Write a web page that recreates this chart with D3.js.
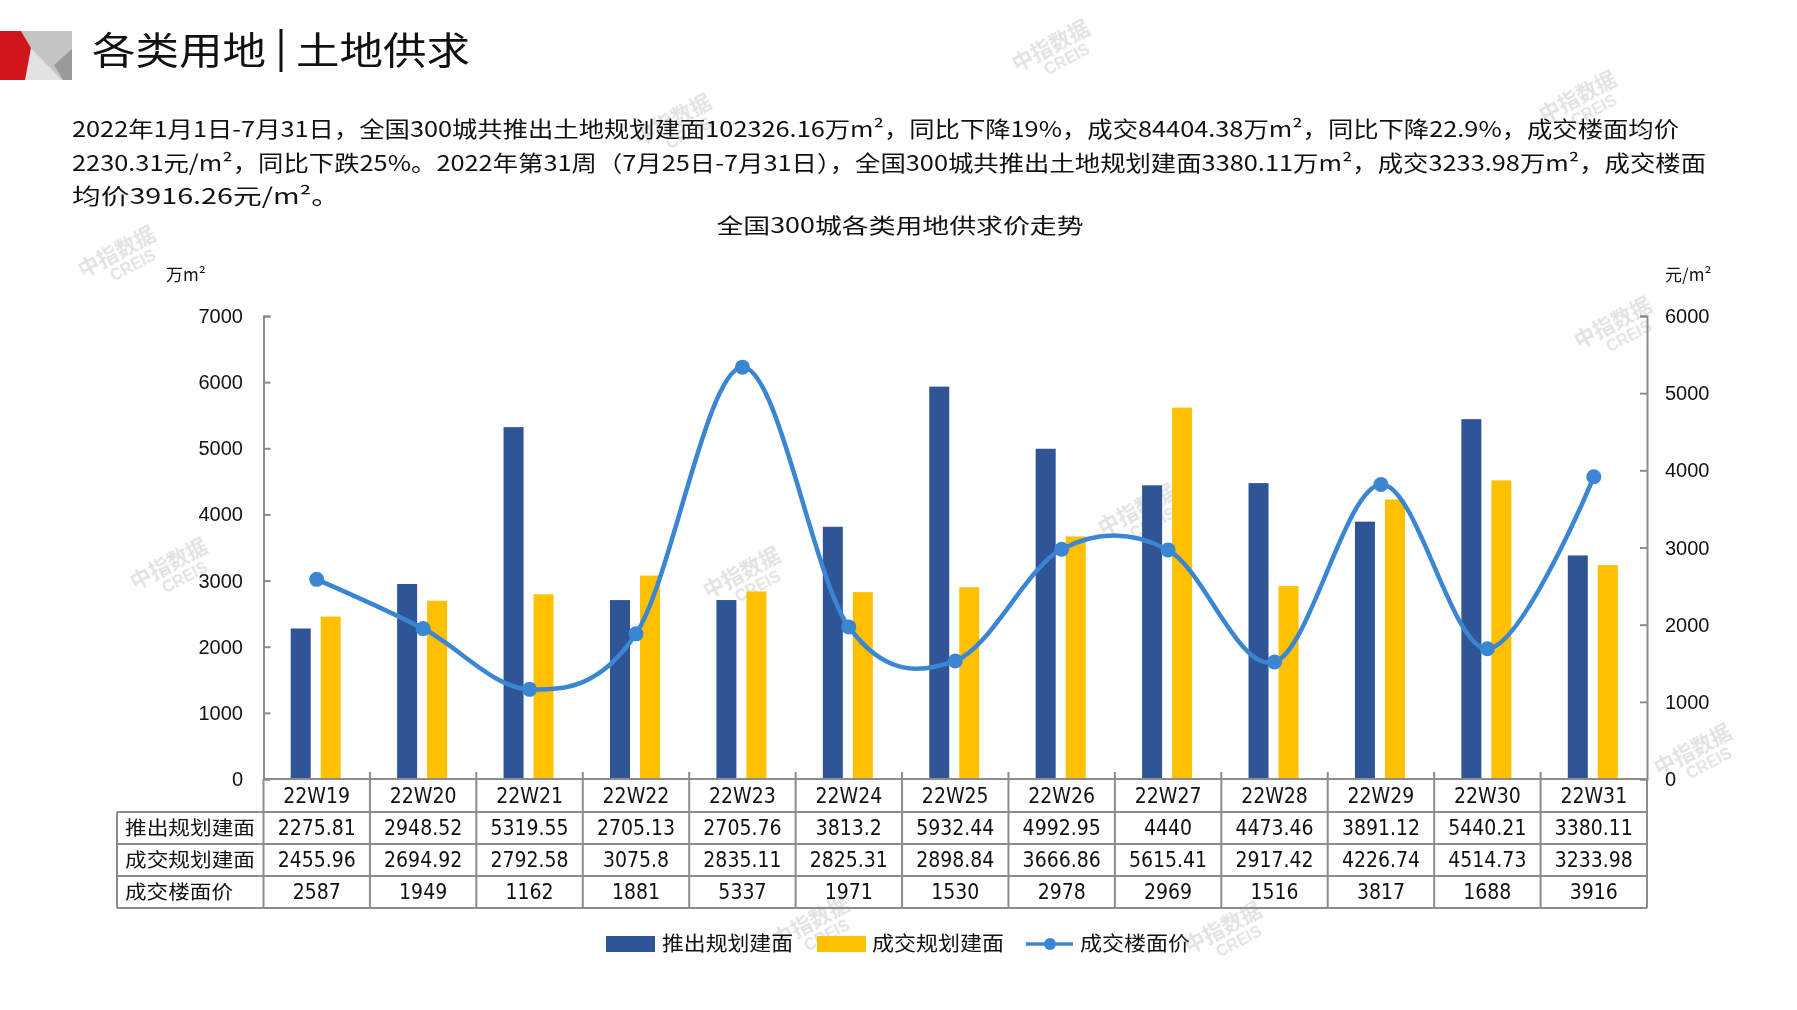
<!DOCTYPE html>
<html><head><meta charset="utf-8">
<script src="https://cdn.jsdelivr.net/npm/d3@7"></script>
<style>body{margin:0;background:#fff;overflow:hidden}</style>
</head><body><svg id="c" width="1797" height="1010"></svg>
<script>
const categories = ["22W19","22W20","22W21","22W22","22W23","22W24","22W25","22W26","22W27","22W28","22W29","22W30","22W31"];
const supply = [2275.81,2948.52,5319.55,2705.13,2705.76,3813.2,5932.44,4992.95,4440,4473.46,3891.12,5440.21,3380.11];
const deal = [2455.96,2694.92,2792.58,3075.8,2835.11,2825.31,2898.84,3666.86,5615.41,2917.42,4226.74,4514.73,3233.98];
const price = [2587,1949,1162,1881,5337,1971,1530,2978,2969,1516,3817,1688,3916];
const leftTicks = [0,1000,2000,3000,4000,5000,6000,7000];
const rightTicks = [0,1000,2000,3000,4000,5000,6000];
const seriesNames = ["推出规划建面","成交规划建面","成交楼面价"];
const titleLeft = "各类用地", titleRight = "土地供求";
const chartTitle = "全国300城各类用地供求价走势";
const leftUnit = "万m²", rightUnit = "元/m²";
const paragraph = [
  "2022年1月1日-7月31日，全国300城共推出土地规划建面102326.16万m²，同比下降19%，成交84404.38万m²，同比下降22.9%，成交楼面均价",
  "2230.31元/m²，同比下跌25%。2022年第31周（7月25日-7月31日），全国300城共推出土地规划建面3380.11万m²，成交3233.98万m²，成交楼面",
  "均价3916.26元/m²。"
];

const CJK = "'Noto Sans CJK SC', sans-serif";
const NUM = "'Liberation Sans', Arial, sans-serif";
const NARROW = "'Liberation Sans Narrow', 'DejaVu Sans Condensed', 'Noto Sans CJK SC', sans-serif";
const BLUE = "#2F5597", YELLOW = "#FFC000", LINE = "#3B86D2", AXIS = "#8c8c8c";

const svg = d3.select("#c");

// watermarks (drawn first, behind)
const wm = [[1054,52],[676,126],[1581,103],[120,258],[1616,329],[172,570],[745,579],[1140,516],[1696,756],[814,928],[1226,934]];
const wmG = svg.append("g").attr("fill","#d6d6d6").attr("opacity",0.7);
wm.forEach(([x,y])=>{
  const g = wmG.append("g").attr("transform",`translate(${x},${y}) rotate(-28)`);
  g.append("text").attr("x",0).attr("y",0).attr("text-anchor","middle").attr("font-family",CJK).attr("font-size",21).attr("font-weight","bold").text("中指数据");
  g.append("text").attr("x",8).attr("y",18).attr("text-anchor","middle").attr("font-family",NUM).attr("font-size",16).attr("font-weight","bold").text("CREIS");
});

// logo
const logo = svg.append("g");
logo.append("rect").attr("x",21).attr("y",31).attr("width",51).attr("height",49).attr("fill","#c4c4c4");
logo.append("polygon").attr("points","21,31 31,48 62,80 25,80").attr("fill","#e2e2e2");
logo.append("polygon").attr("points","54,65 72,49 72,80 63,80").attr("fill","#9a9a9a");
logo.append("polygon").attr("points","0,31 21,31 31,48 25,80 0,80").attr("fill","#D0161B");

// title
svg.append("text").attr("x",92).attr("y",64).attr("font-family",CJK).attr("font-size",38)
  .attr("textLength",174).attr("lengthAdjust","spacingAndGlyphs").attr("fill","#111").text(titleLeft);
svg.append("line").attr("x1",281).attr("x2",281).attr("y1",29).attr("y2",72).attr("stroke","#111").attr("stroke-width",3);
svg.append("text").attr("x",296).attr("y",64).attr("font-family",CJK).attr("font-size",38)
  .attr("textLength",174).attr("lengthAdjust","spacingAndGlyphs").attr("fill","#111").text(titleRight);

// paragraph
const pEnds = [1679,1706,340];
const pBase = [137,171,204];
paragraph.forEach((t,i)=>{
  svg.append("text").attr("x",72).attr("y",pBase[i]).attr("font-family",CJK).attr("font-size",22)
    .attr("textLength",pEnds[i]-72).attr("lengthAdjust","spacingAndGlyphs").attr("fill","#111").text(t);
});

// chart title
svg.append("text").attr("x",900).attr("y",233).attr("text-anchor","middle").attr("font-family",CJK).attr("font-size",21)
  .attr("textLength",367).attr("lengthAdjust","spacingAndGlyphs").attr("fill","#111").text(chartTitle);

// scales
const x0 = 263.5, x1 = 1647, yTop = 316, yBot = 779;
const x = d3.scaleBand().domain(categories).range([x0,x1]).paddingInner(0).paddingOuter(0);
const yL = d3.scaleLinear().domain([0,7000]).range([yBot,yTop]);
const yR = d3.scaleLinear().domain([0,6000]).range([yBot,yTop]);
const bw = 20;

// units
svg.append("text").attr("x",166).attr("y",281).attr("font-family",CJK).attr("font-size",17).attr("fill","#111").text(leftUnit);
svg.append("text").attr("x",1665).attr("y",281).attr("font-family",CJK).attr("font-size",17).attr("fill","#111").text(rightUnit);

// bars
svg.append("g").selectAll("rect").data(categories).join("rect")
  .attr("x",(d)=>x(d)+x.bandwidth()/2-26).attr("width",bw)
  .attr("y",(d,i)=>yL(supply[i])).attr("height",(d,i)=>yBot-yL(supply[i])).attr("fill",BLUE);
svg.append("g").selectAll("rect").data(categories).join("rect")
  .attr("x",(d)=>x(d)+x.bandwidth()/2+4).attr("width",bw)
  .attr("y",(d,i)=>yL(deal[i])).attr("height",(d,i)=>yBot-yL(deal[i])).attr("fill",YELLOW);

// axes
const axL = svg.append("g").attr("transform",`translate(${x0},0)`)
  .call(d3.axisRight(yL).tickValues(leftTicks).tickSize(7).tickFormat(""));
axL.selectAll("line,path").attr("stroke",AXIS).attr("stroke-width",2);
const axR = svg.append("g").attr("transform",`translate(${x1},0)`)
  .call(d3.axisLeft(yR).tickValues(rightTicks).tickSize(7).tickFormat(""));
axR.selectAll("line,path").attr("stroke",AXIS).attr("stroke-width",2);
svg.append("g").selectAll("text").data(leftTicks).join("text")
  .attr("x",243).attr("y",d=>yL(d)+7).attr("text-anchor","end").attr("font-family",NUM).attr("font-size",20).attr("fill","#111").text(d=>d);
svg.append("g").selectAll("text").data(rightTicks).join("text")
  .attr("x",1665).attr("y",d=>yR(d)+7).attr("font-family",NUM).attr("font-size",20).attr("fill","#111").text(d=>d);

// line
const lineGen = d3.line().x((d,i)=>x(categories[i])+x.bandwidth()/2).y(d=>yR(d)).curve(d3.curveCardinal.tension(0));
svg.append("path").datum(price).attr("d",lineGen).attr("fill","none").attr("stroke",LINE).attr("stroke-width",4.5);
svg.append("g").selectAll("circle").data(price).join("circle")
  .attr("cx",(d,i)=>x(categories[i])+x.bandwidth()/2).attr("cy",d=>yR(d)).attr("r",7.5).attr("fill",LINE);

// table
const rows = [yBot, 812, 844, 876, 908];
const tLeft = 117;
const tg = svg.append("g").attr("stroke",AXIS).attr("stroke-width",2).attr("fill","none");
tg.append("line").attr("x1",x0).attr("x2",x1).attr("y1",yBot).attr("y2",yBot);
for (let r=1;r<rows.length;r++){
  tg.append("line").attr("x1",tLeft).attr("x2",x1).attr("y1",rows[r]).attr("y2",rows[r]);
}
tg.append("line").attr("x1",tLeft).attr("x2",tLeft).attr("y1",rows[1]).attr("y2",rows[4]);
const bounds = categories.map(c=>x(c)).concat([x1]);
bounds.forEach((bx,i)=>{
  tg.append("line").attr("x1",bx).attr("x2",bx).attr("y1",(i===0||i===bounds.length-1)?yBot:yBot-7).attr("y2",rows[4]);
});
const tt = svg.append("g").attr("fill","#111");
const cx = c=>x(c)+x.bandwidth()/2;
categories.forEach((c,i)=>{
  tt.append("text").attr("x",cx(c)).attr("y",(rows[0]+rows[1])/2+7).attr("text-anchor","middle").attr("font-family",NARROW).attr("font-size",21).text(c);
  tt.append("text").attr("x",cx(c)).attr("y",(rows[1]+rows[2])/2+7).attr("text-anchor","middle").attr("font-family",NARROW).attr("font-size",21).text(String(supply[i]));
  tt.append("text").attr("x",cx(c)).attr("y",(rows[2]+rows[3])/2+7).attr("text-anchor","middle").attr("font-family",NARROW).attr("font-size",21).text(String(deal[i]));
  tt.append("text").attr("x",cx(c)).attr("y",(rows[3]+rows[4])/2+7).attr("text-anchor","middle").attr("font-family",NARROW).attr("font-size",21).text(String(price[i]));
});
const hdrLen = [130,130,108];
seriesNames.forEach((n,i)=>{
  tt.append("text").attr("x",125).attr("y",(rows[i+1]+rows[i+2])/2+7).attr("font-family",CJK).attr("font-size",19)
    .attr("textLength",hdrLen[i]).attr("lengthAdjust","spacingAndGlyphs").text(n);
});

// legend
const lg = svg.append("g");
const ly = 944;
lg.append("rect").attr("x",606).attr("y",ly-8).attr("width",49).attr("height",16).attr("fill",BLUE);
lg.append("text").attr("x",662).attr("y",ly+7).attr("font-family",CJK).attr("font-size",20).attr("textLength",131).attr("lengthAdjust","spacingAndGlyphs").attr("fill","#111").text(seriesNames[0]);
lg.append("rect").attr("x",817).attr("y",ly-8).attr("width",49).attr("height",16).attr("fill",YELLOW);
lg.append("text").attr("x",872).attr("y",ly+7).attr("font-family",CJK).attr("font-size",20).attr("textLength",132).attr("lengthAdjust","spacingAndGlyphs").attr("fill","#111").text(seriesNames[1]);
lg.append("line").attr("x1",1026).attr("x2",1073).attr("y1",ly).attr("y2",ly).attr("stroke",LINE).attr("stroke-width",3.5);
lg.append("circle").attr("cx",1050).attr("cy",ly).attr("r",6).attr("fill",LINE);
lg.append("text").attr("x",1080).attr("y",ly+7).attr("font-family",CJK).attr("font-size",20).attr("textLength",110).attr("lengthAdjust","spacingAndGlyphs").attr("fill","#111").text(seriesNames[2]);
</script>
</body></html>
